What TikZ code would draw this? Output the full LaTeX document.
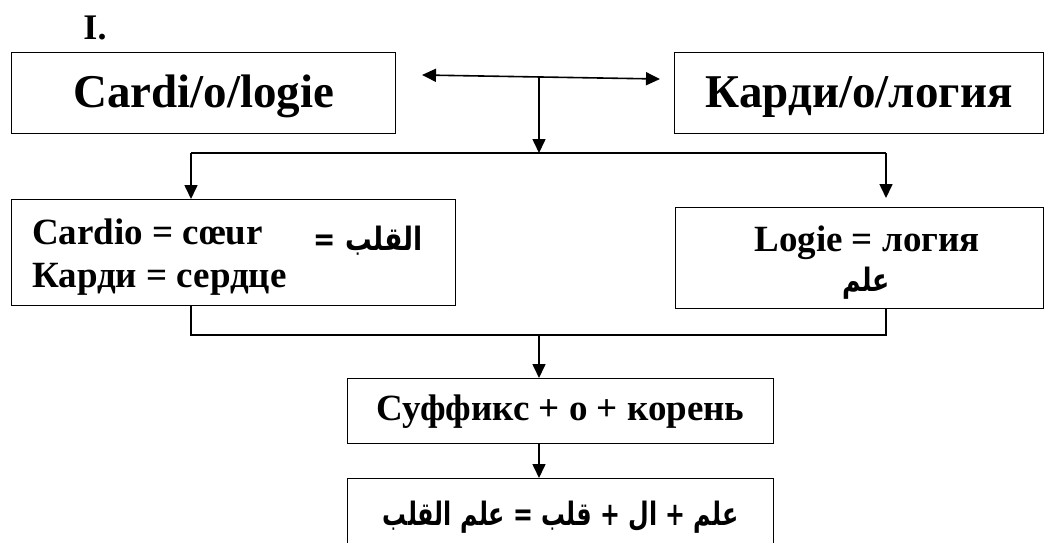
\documentclass[tikz,border=0pt]{standalone}
\usepackage{fontspec}
\usepackage{graphicx}
\setmainfont{Liberation Serif}
\newfontfamily\arabicfont[Script=Arabic]{DejaVu Sans}
\TeXXeTstate=1
\usetikzlibrary{arrows.meta,calc}
\newcommand\arstr[2][0.85]{\scalebox{#1}[1.15]{\beginR #2\endR}}
\begin{document}
\begin{tikzpicture}[x=1pt,y=-1pt,
  box/.style={draw,line width=1.4pt,inner sep=0pt,anchor=north west},
  conn/.style={line width=1.6pt},
  arr/.style={conn,-{Triangle[length=14pt,width=13pt]}},
  big/.style={font=\fontsize{47}{56}\bfseries\selectfont,text height=32pt,text depth=4pt},
  mid/.style={font=\fontsize{37}{44}\bfseries\selectfont},
  ar/.style={font=\arabicfont\fontsize{28}{40}\bfseries\selectfont},
  txt/.style={inner sep=0pt}]
\useasboundingbox (0,0) rectangle (1046,542);
\clip (0,0) rectangle (1046,542);
\fill[white] (0,0) rectangle (1046,542);

\node[txt,font=\fontsize{36}{40}\bfseries\selectfont] (I) at (95,28) {I.};

\node[box,big,minimum width=384pt,minimum height=81pt] (A) at (11,52) {Cardi/o/logie};
\node[box,big,minimum width=369pt,minimum height=81pt] (B) at (674,52) {Карди/о/логия};

\node[box,minimum width=444pt,minimum height=106pt] (C) at (11,199) {};
\node[txt,mid,anchor=base west] (c1) at (32,244) {Cardio = cœur};
\node[txt,mid,anchor=base west] (c2) at (32,287) {Карди = сердце};
\node[txt,ar,anchor=east] (c3) at (423,241) {\arstr[0.95]{القلب =}};

\node[box,minimum width=368pt,minimum height=101pt] (D) at (675,207) {};
\node[txt,mid] (d1) at (867,243) {Logie = логия};
\node[txt,ar] (d2) at (866,283) {\arstr[0.9]{علم}};

\node[box,mid,minimum width=426pt,minimum height=65pt] (E) at (347,378) {Суффикс + о + корень};
\node[box,ar,minimum width=426pt,text height=47pt,text depth=40pt] (F) at (347,478) {\arstr{علم + ال + قلب = علم القلب}};

% top double arrow and junction
\coordinate (dl) at (422,75);
\coordinate (dr) at (660,79);
\coordinate (j1) at (539,77);
\coordinate (hl) at (191,153);
\coordinate (hm) at (539,153);
\coordinate (hr) at (886,153);
\draw[conn,{Triangle[length=14pt,width=13pt]}-{Triangle[length=14pt,width=13pt]}] (dl) -- (dr);
\draw[arr] (j1) -- (hm);
\draw[conn] (hl) -- (hr);
\draw[arr] (hl) -- (hl |- C.north);
\draw[arr] (hr) -- ($(hr |- D.north)+(0,-9)$);

% bottom connector
\coordinate (bl) at (191,335);
\coordinate (bm) at (539,335);
\coordinate (br) at (886,335);
\draw[conn] (hl |- C.south) -- (bl) -- (br) -- (hr |- D.south);
\draw[arr] (bm) -- (bm |- E.north);
\draw[arr] (bm |- E.south) -- (bm |- F.north);
\end{tikzpicture}
\end{document}
